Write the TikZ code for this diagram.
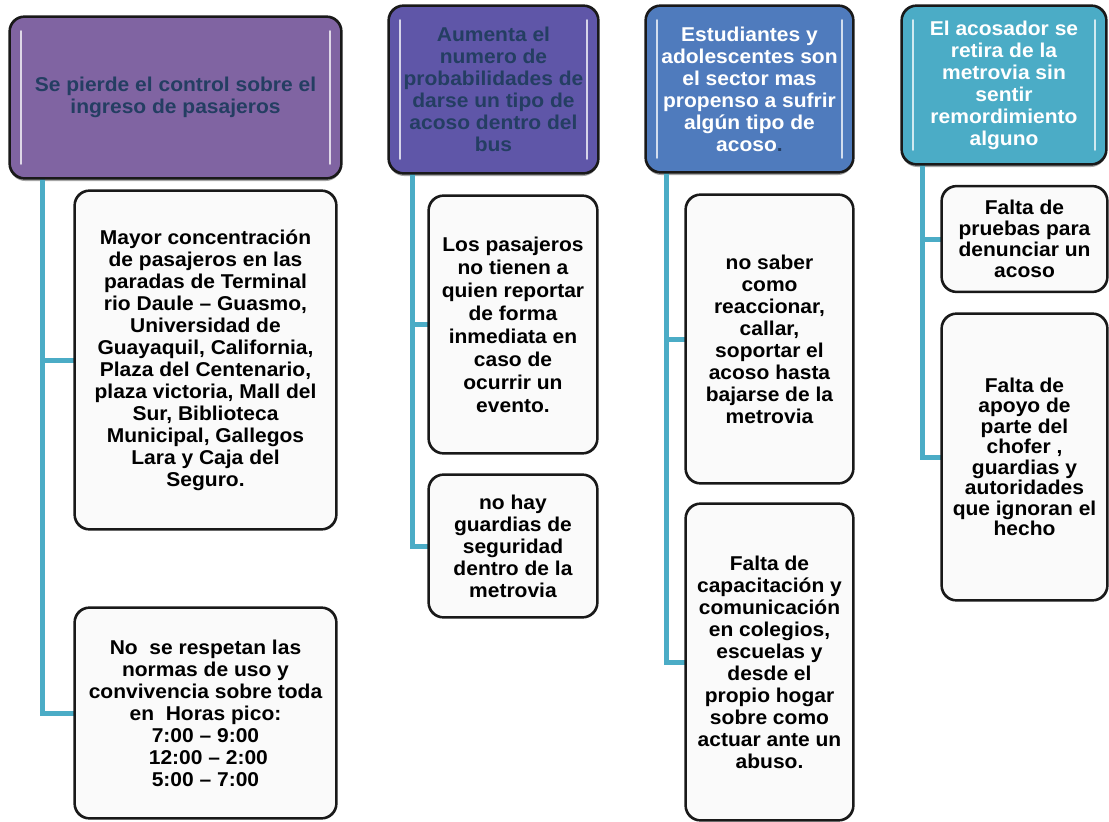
\documentclass[tikz,border=0pt]{standalone}
\usepackage{fontspec}
\setmainfont{Liberation Sans}[FakeStretch=1.05]
\usetikzlibrary{calc,shadows}
\definecolor{hA}{RGB}{128,100,162}
\definecolor{hB}{RGB}{95,86,168}
\definecolor{hC}{RGB}{79,123,189}
\definecolor{hD}{RGB}{75,172,198}
\definecolor{hdtxt}{RGB}{36,62,98}
\definecolor{connc}{RGB}{75,172,198}
\definecolor{boxfill}{RGB}{250,250,250}
\tikzset{
  header/.style={draw=black!90, line width=1.6pt, rounded corners=15pt,
    align=center, inner sep=0pt, font=\fontsize{20}{22}\selectfont\bfseries,
    drop shadow={shadow xshift=0pt, shadow yshift=-3pt, opacity=0.35, fill=black}},
  body/.style={draw=black!90, line width=1.6pt, rounded corners=15pt, fill=boxfill,
    align=center, inner sep=0pt, font=\fontsize{20}{22}\selectfont\bfseries},
  gloss/.style={draw=white, line width=2.5pt, line cap=round, opacity=0.75},
  conn/.style={draw=connc, line width=5pt}
}
\begin{document}
\begin{tikzpicture}[x=1pt,y=-1pt]
\path[use as bounding box] (0,0) rectangle (1109,822);

% headers
\node[header, fill=hA, text=hdtxt, minimum width=331pt, minimum height=161pt] (h1) at (175.5,97.5)
  {Se pierde el control sobre el\\ingreso de pasajeros};
\node[header, fill=hB, text=hdtxt, minimum width=209pt, minimum height=167pt] (h2) at (493.5,89.5)
  {Aumenta el\\numero de\\probabilidades de\\darse un tipo de\\acoso dentro del\\bus};
\node[header, fill=hC, text=white, minimum width=207pt, minimum height=166pt] (h3) at (749.5,89)
  {Estudiantes y\\adolescentes son\\el sector mas\\propenso a sufrir\\algún tipo de\\acoso\textcolor{hdtxt}{.}};
\node[header, fill=hD, text=white, minimum width=204pt, minimum height=158pt] (h4) at (1004,85)
  {El acosador se\\retira de la\\metrovia sin\\sentir\\remordimiento\\alguno};

% gloss highlights
\foreach \h in {h1,h2,h3,h4}{
  \draw[gloss] ($(\h.north west)+(12,15)$) -- ($(\h.south west)+(12,-15)$);
  \draw[gloss] ($(\h.north east)+(-12,15)$) -- ($(\h.south east)+(-12,-15)$);
}

% body boxes
\node[body, minimum width=261pt, minimum height=338pt] (a1) at (205.5,360)
  {Mayor concentración\\de pasajeros en las\\paradas de Terminal\\rio Daule -- Guasmo,\\Universidad de\\Guayaquil, California,\\Plaza del Centenario,\\plaza victoria, Mall del\\Sur, Biblioteca\\Municipal, Gallegos\\Lara y Caja del\\Seguro.};
\node[body, minimum width=261pt, minimum height=210pt] (a2) at (205.5,713)
  {No\ \ se respetan las\\normas de uso y\\convivencia sobre toda\\en\ \ Horas pico:\\7:00 -- 9:00\\\ 12:00 -- 2:00\\5:00 -- 7:00};

\node[body, minimum width=168pt, minimum height=257pt, font=\fontsize{20}{23}\selectfont\bfseries] (b1) at (513,324.5)
  {Los pasajeros\\no tienen a\\quien reportar\\de forma\\inmediata en\\caso de\\ocurrir un\\evento.};
\node[body, minimum width=168pt, minimum height=142pt] (b2) at (513,546)
  {no hay\\guardias de\\seguridad\\dentro de la\\metrovia};

\node[body, minimum width=167pt, minimum height=288pt] (c1) at (769.5,339)
  {no saber\\como\\reaccionar,\\callar,\\soportar el\\acoso hasta\\bajarse de la\\metrovia};
\node[body, minimum width=167pt, minimum height=316pt] (c2) at (769.5,662)
  {Falta de\\capacitación y\\comunicación\\en colegios,\\escuelas y\\desde el\\propio hogar\\sobre como\\actuar ante un\\abuso.};

\node[body, minimum width=165pt, minimum height=105pt, font=\fontsize{20}{21}\selectfont\bfseries] (d1) at (1024.5,239)
  {Falta de\\pruebas para\\denunciar un\\acoso};
\node[body, minimum width=165pt, minimum height=286pt, font=\fontsize{20}{20.5}\selectfont\bfseries] (d2) at (1024.5,457)
  {Falta de\\apoyo de\\parte del\\chofer ,\\guardias y\\autoridades\\que ignoran el\\hecho};

% connectors
\draw[conn] ($(h1.south west)+(33,0)$) |- (a1.west);
\draw[conn] ($(h1.south west)+(33,0)$) |- (a2.west);
\draw[conn] ($(h2.south west)+(24,0)$) |- (b1.west);
\draw[conn] ($(h2.south west)+(24,0)$) |- (b2.west);
\draw[conn] ($(h3.south west)+(21,0)$) |- (c1.west);
\draw[conn] ($(h3.south west)+(21,0)$) |- (c2.west);
\draw[conn] ($(h4.south west)+(21,0)$) |- (d1.west);
\draw[conn] ($(h4.south west)+(21,0)$) |- (d2.west);

% redraw box borders over connector ends
\foreach \b in {a1,a2,b1,b2,c1,c2,d1,d2}{
  \draw[draw=black!90, line width=1.6pt, rounded corners=15pt] (\b.north west) rectangle (\b.south east);
}
\foreach \h in {h1,h2,h3,h4}{
  \draw[draw=black!90, line width=1.6pt, rounded corners=15pt] (\h.north west) rectangle (\h.south east);
}
\end{tikzpicture}
\end{document}
